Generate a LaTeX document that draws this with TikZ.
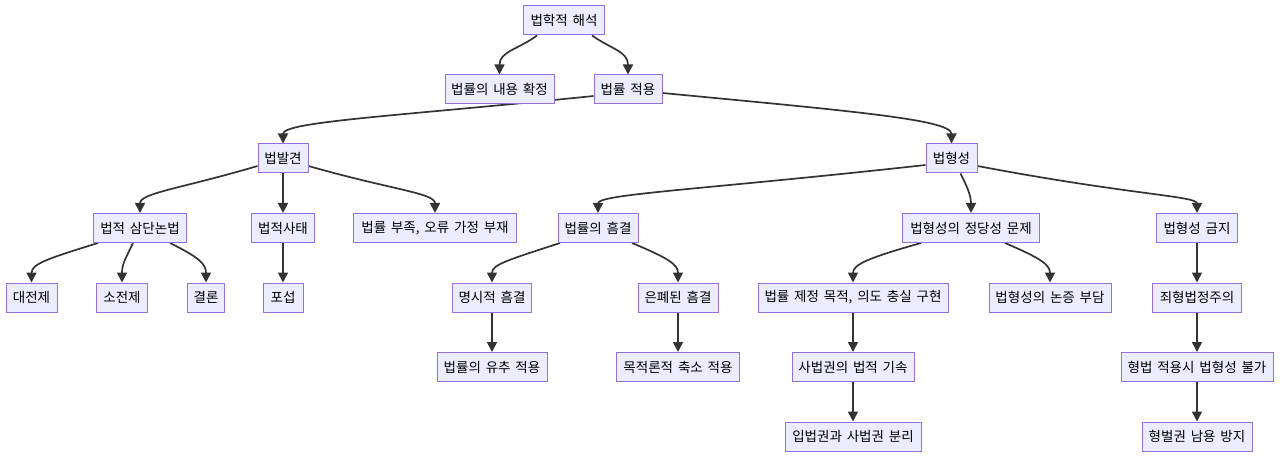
\documentclass[tikz,border=0pt]{standalone}
\usepackage{fontspec}
\setmainfont[WordSpace=1.6]{Noto Sans CJK KR}
\usetikzlibrary{arrows.meta,backgrounds}
\definecolor{nodefill}{HTML}{ECECFF}
\definecolor{nodeborder}{HTML}{9370DB}
\definecolor{edgecol}{HTML}{333333}
\begin{document}
\begin{tikzpicture}[x=1pt,y=1pt,
  box/.style={draw=nodeborder, fill=nodefill, line width=1pt, minimum height=29pt, inner sep=0pt, font=\fontsize{13.5}{15}\selectfont},
  edge/.style={draw=edgecol, line width=1.7pt, -{Triangle[length=10pt,width=10pt]}}]
\useasboundingbox (0,0) rectangle (1280,-457);
% row 0
\node[box,minimum width=81] (A) at (564,-20.5) {법학적 해석};
% row 1
\node[box,minimum width=109] (B) at (499.5,-89.5) {법률의 내용 확정};
\node[box,minimum width=68] (C) at (628,-89.5) {법률 적용};
% row 2
\node[box,minimum width=50] (D) at (283,-158.5) {법발견};
\node[box,minimum width=51] (E) at (951.5,-158.5) {법형성};
% row 3
\node[box,minimum width=93] (F) at (140,-228) {법적 삼단논법};
\node[box,minimum width=63] (G) at (283,-228) {법적사태};
\node[box,minimum width=163] (H) at (435,-228) {법률 부족, 오류 가정 부재};
\node[box,minimum width=80] (I) at (598,-228) {법률의 흠결};
\node[box,minimum width=137] (J) at (971,-228) {법형성의 정당성 문제};
\node[box,minimum width=81] (K) at (1197,-228) {법형성 금지};
% row 4
\node[box,minimum width=51] (L) at (31.5,-297.5) {대전제};
\node[box,minimum width=51] (M) at (122,-297.5) {소전제};
\node[box,minimum width=37] (N) at (206,-297.5) {결론};
\node[box,minimum width=40] (O) at (283,-297.5) {포섭};
\node[box,minimum width=79] (P) at (492,-297.5) {명시적 흠결};
\node[box,minimum width=80] (Q) at (678,-297.5) {은폐된 흠결};
\node[box,minimum width=190] (R) at (853,-297.5) {법률 제정 목적, 의도 충실 구현};
\node[box,minimum width=122] (S) at (1050,-297.5) {법형성의 논증 부담};
\node[box,minimum width=89] (T) at (1197,-297.5) {죄형법정주의};
% row 5
\node[box,minimum width=110] (U) at (492,-367) {법률의 유추 적용};
\node[box,minimum width=123] (V) at (678,-367) {목적론적 축소 적용};
\node[box,minimum width=122] (W) at (853,-367) {사법권의 법적 기속};
\node[box,minimum width=152] (X) at (1197,-367) {형법 적용시 법형성 불가};
% row 6
\node[box,minimum width=136] (Y) at (853,-436.5) {입법권과 사법권 분리};
\node[box,minimum width=110] (Z) at (1197,-436.5) {형벌권 남용 방지};
\begin{scope}[on background layer]
\draw[edge] ([xshift=-27]A.south) .. controls +(-19,-14) and +(0,23) .. (B.north);
\draw[edge] ([xshift=28]A.south) .. controls +(20,-14) and +(0,23) .. (C.north);
\draw[edge] ([yshift=-6.5]C.west) .. controls +(-194,-20) and +(0,22) .. (D.north);
\draw[edge] ([yshift=-3.5]C.east) .. controls +(188,-18) and +(0,24) .. (E.north);
\draw[edge] ([yshift=-7.5]D.west) .. controls +(-78,-23) and +(0,20) .. (F.north);
\draw[edge] (D.south) -- (G.north);
\draw[edge] ([yshift=-7.5]D.east) .. controls +(84,-24) and +(0,20) .. (H.north);
\draw[edge] ([yshift=-6.5]E.west) .. controls +(-226,-25) and +(0,19) .. (I.north);
\draw[edge] ([xshift=9]E.south) .. controls +(6,-12) and +(0,18) .. (J.north);
\draw[edge] ([yshift=-7.5]E.east) .. controls +(153,-29) and +(0,17) .. (K.north);
\draw[edge] ([xshift=-42]F.south) .. controls +(-48,-15) and +(0,19) .. (L.north);
\draw[edge] ([xshift=-7]F.south) .. controls +(-7,-15) and +(0,19) .. (M.north);
\draw[edge] ([xshift=30]F.south) .. controls +(28,-14) and +(0,19) .. (N.north);
\draw[edge] (G.south) -- (O.north);
\draw[edge] ([xshift=-38]I.south) .. controls +(-52,-17) and +(0,18) .. (P.north);
\draw[edge] ([xshift=34]I.south) .. controls +(36,-15) and +(0,18) .. (Q.north);
\draw[edge] ([xshift=-50]J.south) .. controls +(-53,-15) and +(0,18) .. (R.north);
\draw[edge] ([xshift=34]J.south) .. controls +(35,-15) and +(0,18) .. (S.north);
\draw[edge] (K.south) -- (T.north);
\draw[edge] (P.south) -- (U.north);
\draw[edge] (Q.south) -- (V.north);
\draw[edge] (R.south) -- (W.north);
\draw[edge] (W.south) -- (Y.north);
\draw[edge] (T.south) -- (X.north);
\draw[edge] (X.south) -- (Z.north);
\end{scope}
\end{tikzpicture}
\end{document}
